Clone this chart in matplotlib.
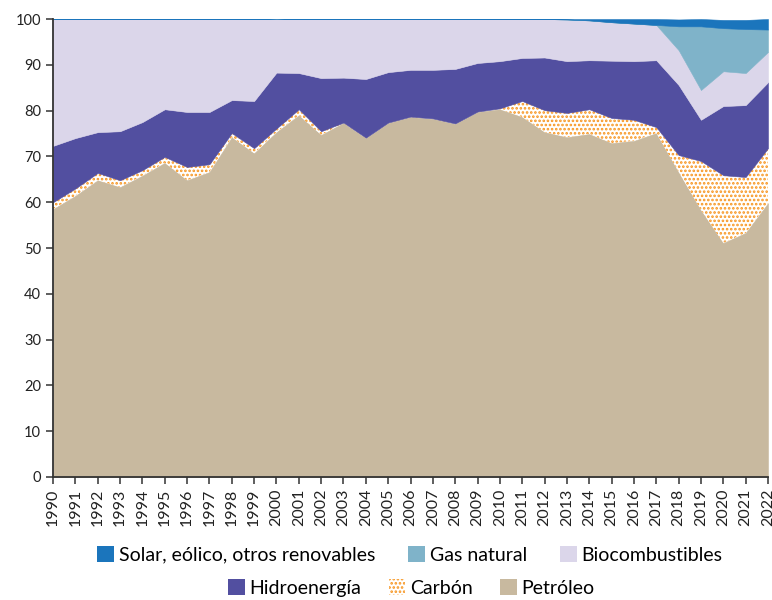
import numpy as np
import matplotlib
matplotlib.use("Agg")
import matplotlib.pyplot as plt
from matplotlib.patches import Patch

plt.rcParams['font.family'] = ['Lato', 'DejaVu Sans']
plt.rcParams['hatch.linewidth'] = 1.25

years = list(range(1990, 2023))

petroleo = [58.5, 61.4, 64.8, 63.3, 65.8, 68.6, 64.8, 66.6, 74.2, 70.7,
            75.3, 79.0, 74.7, 77.3, 74.0, 77.3, 78.6, 78.2, 77.1, 79.7,
            80.3, 78.6, 75.3, 74.2, 74.9, 72.9, 73.4, 75.1, 66.6, 58.3,
            51.1, 53.3, 59.8]
carbon = [1.5, 1.6, 1.6, 1.5, 1.2, 1.3, 2.9, 1.7, 0.9, 1.1,
          0.8, 1.3, 0.8, 0.1, 0.1, 0.1, 0.1, 0.1, 0.1, 0.1,
          0.2, 3.5, 4.8, 5.3, 5.4, 5.5, 4.6, 1.3, 3.7, 10.7,
          14.8, 12.2, 12.0]
hidro = [12.3, 11.0, 8.9, 10.7, 10.5, 10.4, 12.0, 11.4, 7.2, 10.3,
         12.2, 7.9, 11.6, 9.8, 12.8, 11.0, 10.2, 10.6, 11.9, 10.6,
         10.3, 9.4, 11.5, 11.3, 10.7, 12.5, 12.8, 14.6, 15.3, 9.0,
         15.1, 15.7, 14.4]
biocomb = [27.7, 26.0, 24.7, 24.5, 22.5, 19.7, 20.3, 20.3, 17.7, 17.9,
           11.8, 11.8, 12.9, 12.8, 13.1, 11.6, 11.1, 11.1, 10.9, 9.6,
           9.2, 8.5, 8.4, 9.1, 8.7, 8.4, 8.2, 7.7, 7.6, 6.5,
           7.6, 7.0, 6.6]
gas = [0] * 28 + [5.2, 13.9, 9.4, 9.6, 4.9]
solar = [0] * 23 + [0.1, 0.3, 0.7, 1.0, 1.3, 1.5, 1.6, 1.8, 2.0, 2.3]

series = [petroleo, carbon, hidro, biocomb, gas, solar]
labels = ['Petróleo', 'Carbón', 'Hidroenergía', 'Biocombustibles',
          'Gas natural', 'Solar, eólico, otros renovables']
colors = ['#c8b99f', 'white', '#524fa0', '#dbd6ea', '#7fb3c9', '#1b75bc']
orange = '#f7941d'

fig = plt.figure(figsize=(7.72, 6.0), dpi=100)
ax = fig.add_axes([0.0687, 0.205, 0.9261, 0.7633])

bottom = np.zeros(len(years))
for vals, lab, col in zip(series, labels, colors):
    top = bottom + np.array(vals)
    if lab == 'Carbón':
        ax.fill_between(years, bottom, top, facecolor='white', edgecolor=orange,
                        hatch='....', linewidth=0)
    else:
        ax.fill_between(years, bottom, top, facecolor=col, edgecolor=col,
                        linewidth=0.4)
    bottom = top

ax.set_xlim(1990, 2022)
ax.set_ylim(0, 100)
ax.set_xticks(years)
ax.set_xticklabels([str(y) for y in years], rotation=90)
ax.set_yticks(range(0, 101, 10))
for s in ['top', 'right']:
    ax.spines[s].set_visible(False)
for s in ['left', 'bottom']:
    ax.spines[s].set_color('#333333')
    ax.spines[s].set_linewidth(1.3)
ax.tick_params(axis='both', colors='#333333', length=5, width=1.1,
               labelcolor='#222222')
ax.tick_params(axis='x', labelsize=11.5)
ax.tick_params(axis='y', labelsize=10.5)

def h(i):
    if labels[i] == 'Carbón':
        return Patch(facecolor='white', edgecolor=orange, hatch='....', linewidth=0)
    return Patch(facecolor=colors[i], edgecolor='none')

row1 = [5, 4, 3]
row2 = [2, 1, 0]
kw = dict(loc='center', ncol=3, frameon=False, fontsize=14, handlelength=0.85,
          handleheight=0.85, handletextpad=0.25, borderpad=0)
leg1 = fig.legend([h(i) for i in row1], [labels[i] for i in row1],
                  bbox_to_anchor=(0.531, 0.075), columnspacing=1.7, **kw)
leg2 = fig.legend([h(i) for i in row2], [labels[i] for i in row2],
                  bbox_to_anchor=(0.533, 0.02), columnspacing=1.4, **kw)

fig.savefig('out.png', dpi=100)
